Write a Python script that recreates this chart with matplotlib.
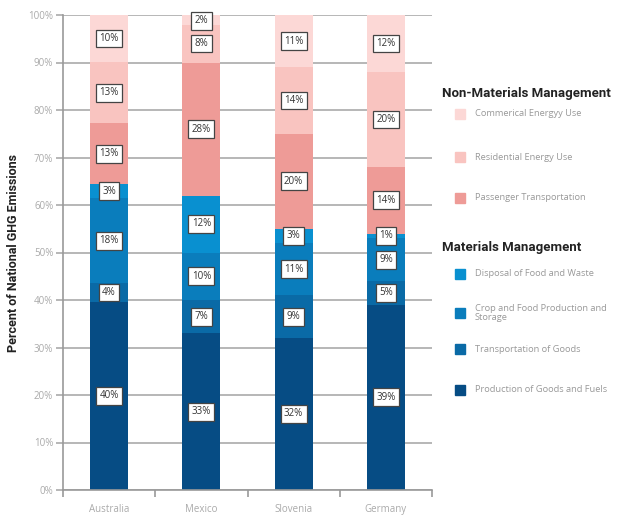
import numpy as np
import matplotlib.pyplot as plt
from matplotlib.patches import Rectangle

# Data (bottom to top)
countries = ['Australia', 'Mexico', 'Slovenia', 'Germany']
categories = ['Production of Goods and Fuels', 'Transportation of Goods',
              'Crop and Food Production and\nStorage', 'Disposal of Food and Waste',
              'Passenger Transportation', 'Residential Energy Use', 'Commerical Energyy Use']
production = [40, 33, 32, 39]
transport_goods = [4, 7, 9, 5]
crop_food = [18, 10, 11, 9]
disposal = [3, 12, 3, 1]
passenger = [13, 28, 20, 14]
residential = [13, 8, 14, 20]
commercial = [10, 2, 11, 12]
series = [production, transport_goods, crop_food, disposal, passenger, residential, commercial]

colors = ['#064c84', '#0a6aa6', '#0a7dbc', '#0990d0', '#ee9b97', '#f9c4c0', '#fcd8d6']

head_family = ['Roboto', 'DejaVu Sans']
body_family = ['Open Sans', 'DejaVu Sans']

fig = plt.figure(figsize=(6.17, 5.17), dpi=100)
ax = fig.add_axes([63 / 617, 1 - 490 / 517, 369 / 617, 475 / 517])

x = np.arange(len(countries))
# rounded shares don't always add to 100, so scale each column to 100
totals = np.sum(np.array(series, dtype=float), axis=0)
bottom = np.zeros(len(countries))
for vals, col in zip(series, colors):
    vals = np.array(vals, dtype=float)
    h = vals / totals * 100
    ax.bar(x, h, width=0.41, bottom=bottom, color=col, zorder=2)
    for xi, b, hh, v in zip(x, bottom, h, vals):
        yc = min(b + hh / 2, 98.8)
        ax.text(xi, yc, f'{int(v)}%', ha='center', va='center', fontsize=7,
                color='#333333', zorder=4, family=body_family,
                bbox=dict(boxstyle='square,pad=0.35', fc='white', ec='#444444', lw=0.9))
    bottom += h

ax.set_xlim(-0.5, 3.5)
ax.set_ylim(0, 100)
ax.set_yticks(np.arange(0, 101, 10))
ax.set_yticklabels([f'{v}%' for v in range(0, 101, 10)], color='#aaaaaa', fontsize=7,
                   family=body_family)
ax.grid(True, axis='y', color='#aaaaaa', lw=1.2, zorder=0)
ax.set_axisbelow(True)
ax.set_xticks(x)
ax.set_xticklabels(countries, color='#aaaaaa', fontsize=7, family=body_family)
ax.set_xticks(np.arange(-0.5, 4, 1), minor=True)
ax.tick_params(axis='x', which='major', length=0, pad=10)
ax.tick_params(axis='x', which='minor', length=5, color='#999999', width=1.2)
ax.tick_params(axis='y', length=5, color='#aaaaaa', width=1.2, pad=2)
for s in ['top', 'right']:
    ax.spines[s].set_visible(False)
for s in ['left', 'bottom']:
    ax.spines[s].set_color('#999999')
    ax.spines[s].set_linewidth(1.2)

ax.set_ylabel('Percent of National GHG Emissions', fontsize=9, fontweight='bold',
              family=head_family, labelpad=6, color='#222222')

# Legend built by hand
head_font = dict(fontsize=9.5, fontweight='bold', family=head_family,
                 color='#222222', va='center', ha='left')
fig.text(442 / 617, 1 - 93 / 517, 'Non-Materials Management', **head_font)
fig.text(442 / 617, 1 - 247 / 517, 'Materials Management', **head_font)

legend_items = [(6, 114), (5, 157), (4, 198), (3, 274), (2, 313), (1, 349), (0, 390)]
for idx, ypx in legend_items:
    fig.patches.append(Rectangle((455 / 617, 1 - (ypx + 5) / 517), 10 / 617, 10 / 517,
                                 transform=fig.transFigure, color=colors[idx]))
    fig.text(475 / 617, 1 - ypx / 517, categories[idx], fontsize=6.7, color='#999999',
             va='center', ha='left', linespacing=1.1, family=body_family)

fig.savefig('out.png', dpi=100)
